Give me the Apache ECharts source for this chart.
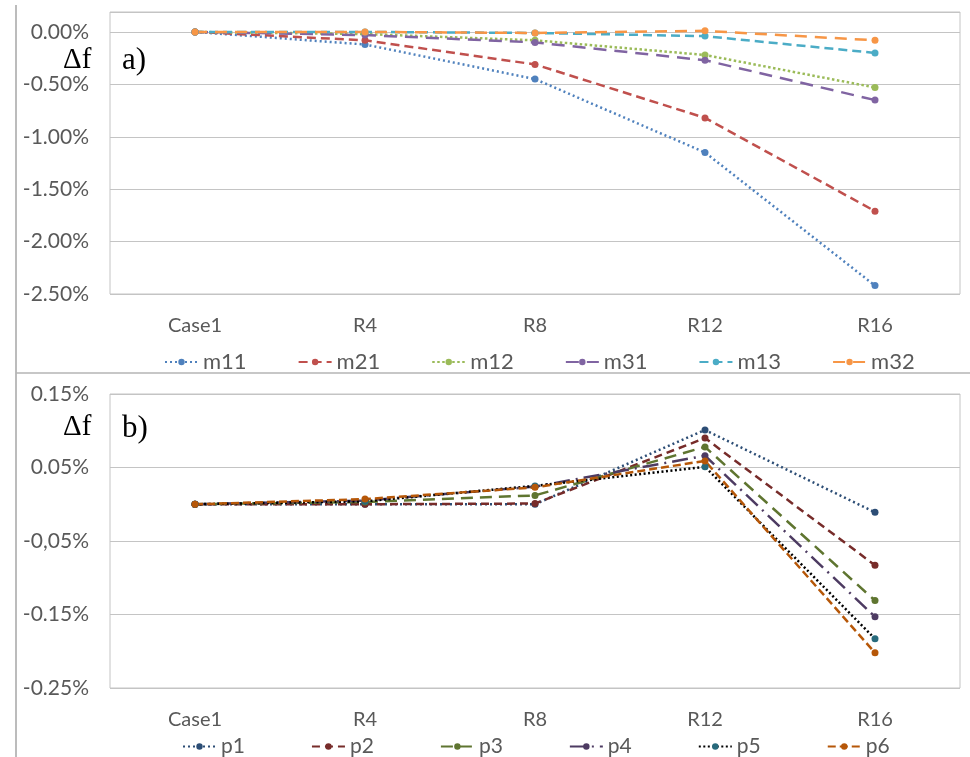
<!DOCTYPE html>
<html>
<head>
<meta charset="utf-8">
<script src="https://cdn.jsdelivr.net/npm/echarts@6/dist/echarts.min.js"></script>
<style>
  html, body { margin: 0; padding: 0; background: #fff; }
  #chart { width: 970px; height: 757px; }
</style>
</head>
<body>
<div id="chart"></div>
<script>
// categories on the x axis (same for both panels)
var cases = ["Case1", "R4", "R8", "R12", "R16"];

// panel a) values in %
var m11 = [0, -0.12, -0.45, -1.15, -2.42];
var m21 = [0, -0.08, -0.31, -0.82, -1.71];
var m12 = [0, -0.02, -0.08, -0.22, -0.53];
var m31 = [0, -0.03, -0.10, -0.27, -0.65];
var m13 = [0, 0.00, -0.01, -0.04, -0.20];
var m32 = [0, 0.00, -0.01, 0.01, -0.08];

// panel b) values in %
var p1 = [0, 0.000, 0.000, 0.101, -0.011];
var p2 = [0, 0.000, 0.001, 0.090, -0.083];
var p3 = [0, 0.003, 0.012, 0.078, -0.131];
var p4 = [0, 0.005, 0.024, 0.066, -0.153];
var p5 = [0, 0.004, 0.025, 0.051, -0.183];
var p6 = [0, 0.007, 0.023, 0.059, -0.202];

// tick labels (the reference really prints "-0,05%")
var topTicks = [-2.5, -2, -1.5, -1, -0.5, 0];
var topTickLabels = ["-2.50%", "-2.00%", "-1.50%", "-1.00%", "-0.50%", "0.00%"];
var botTicks = [-0.25, -0.15, -0.05, 0.05, 0.15];
var botTickLabels = ["-0.25%", "-0.15%", "-0,05%", "0.05%", "0.15%"];

var labelFont = "Lato, Roboto, sans-serif";
var labelColor = "#595959";
var gridColor = "#c4c4c4";

function tickLabel(ticks, labels) {
  return function (v) {
    for (var i = 0; i < ticks.length; i++) {
      if (Math.abs(ticks[i] - v) < 1e-9) return labels[i];
    }
    return "";
  };
}

function line(name, data, color, dash, idx, markerColor) {
  return {
    name: name,
    type: "line",
    xAxisIndex: idx,
    yAxisIndex: idx,
    data: data,
    symbol: "circle",
    symbolSize: 7,
    itemStyle: { color: markerColor || color },
    lineStyle: { color: color, width: 2.5, type: dash },
    z: 3
  };
}

function xAxis(idx) {
  return {
    type: "category",
    gridIndex: idx,
    data: cases,
    axisLine: { show: false },
    axisTick: { show: false },
    axisLabel: { color: labelColor, fontFamily: labelFont, fontSize: 20, margin: 22 }
  };
}

function yAxis(idx, min, max, interval, ticks, labels) {
  return {
    type: "value",
    gridIndex: idx,
    min: min,
    max: max,
    interval: interval,
    axisLine: { show: false },
    axisTick: { show: false },
    splitLine: { lineStyle: { color: gridColor, width: 1 } },
    axisLabel: {
      color: labelColor, fontFamily: labelFont, fontSize: 21, margin: 21,
      formatter: tickLabel(ticks, labels)
    }
  };
}

var chart = echarts.init(document.getElementById("chart"));
chart.setOption({
  animation: false,
  backgroundColor: "#fff",
  grid: [
    { left: 110, right: 10, top: 12, height: 282, show: true, borderColor: gridColor, borderWidth: 1, outerBoundsMode: "none" },
    { left: 110, right: 10, top: 394, height: 294, show: true, borderColor: gridColor, borderWidth: 1, outerBoundsMode: "none" }
  ],
  xAxis: [xAxis(0), xAxis(1)],
  yAxis: [
    yAxis(0, -2.5, 0.19, 0.5, topTicks, topTickLabels),
    yAxis(1, -0.25, 0.15, 0.1, botTicks, botTickLabels)
  ],
  legend: [
    {
      data: ["m11", "m21", "m12", "m31", "m13", "m32"],
      left: 159, top: 346,
      itemWidth: 33, itemHeight: 8, itemGap: 51,
      textStyle: { color: labelColor, fontFamily: labelFont, fontSize: 22 }
    },
    {
      data: ["p1", "p2", "p3", "p4", "p5", "p6"],
      left: 177, top: 731,
      itemWidth: 33, itemHeight: 8, itemGap: 66,
      textStyle: { color: labelColor, fontFamily: labelFont, fontSize: 21 }
    }
  ],
  graphic: [
    { type: "line", shape: { x1: 16, y1: 5, x2: 16, y2: 757 }, style: { stroke: "#a6a6a6", lineWidth: 1.5 } },
    { type: "line", shape: { x1: 16, y1: 373, x2: 970, y2: 373 }, style: { stroke: "#b5b5b5", lineWidth: 1.5 } },
    { type: "text", left: 63, top: 46, style: { text: "\u0394f", font: "29px 'Liberation Serif', serif", fill: "#000" } },
    { type: "text", left: 122, top: 45, style: { text: "a)", font: "31px 'Liberation Serif', serif", fill: "#000" } },
    { type: "text", left: 63, top: 413, style: { text: "\u0394f", font: "29px 'Liberation Serif', serif", fill: "#000" } },
    { type: "text", left: 122, top: 413, style: { text: "b)", font: "31px 'Liberation Serif', serif", fill: "#000" } }
  ],
  series: [
    line("m11", m11, "#4f81bd", [2, 3], 0),
    line("m21", m21, "#c0504d", [9, 5], 0),
    line("m12", m12, "#9bbb59", [2.5, 2.5], 0),
    line("m31", m31, "#8064a2", [13, 8], 0),
    line("m13", m13, "#4bacc6", [9, 5], 0),
    line("m32", m32, "#f79646", [12, 8], 0),

    line("p1", p1, "#2c4d75", [2, 3], 1),
    line("p2", p2, "#772c2a", [8, 5], 1),
    line("p3", p3, "#5f7530", [12, 7], 1),
    line("p4", p4, "#4d3b62", [16, 6, 2, 6], 1),
    line("p5", p5, "#000000", [2, 2.5], 1, "#276a7c"),
    line("p6", p6, "#b65708", [8, 4], 1)
  ]
});
</script>
</body>
</html>
